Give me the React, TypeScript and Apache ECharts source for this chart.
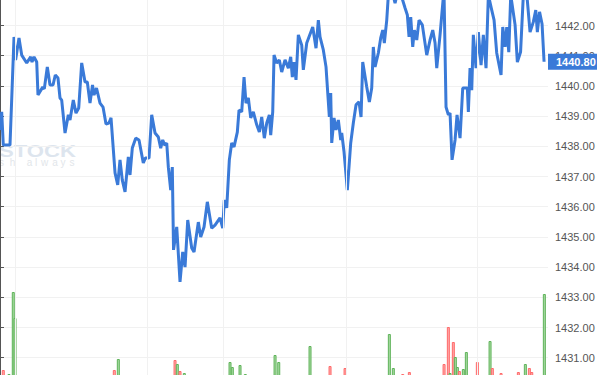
import React, { useEffect, useRef } from "react";
import * as echarts from "echarts";

// Time in seconds from the left edge of the view, price per tick
const priceTimes = [
  0, 37, 72, 219, 307, 342, 416, 475, 585, 672, 701, 745, 804, 832, 935, 970, 1036, 1095, 1161, 1211,
  1270, 1314, 1351, 1424, 1496, 1533, 1605, 1664, 1724, 1789, 1862, 1912, 1971, 2026, 2059, 2113, 2190, 2256, 2321, 2387,
  2431, 2519, 2578, 2628, 2678, 2738, 2810, 2847, 2897, 2972, 3044, 3138, 3182, 3263, 3322, 3395, 3467, 3519, 3563, 3607,
  3651, 3686, 3738, 3773, 3800, 3870, 3942, 4001, 4052, 4111, 4198, 4249, 4343, 4395, 4468, 4540, 4636, 4709, 4818, 4877,
  4912, 4965, 5022, 5074, 5125, 5197, 5234, 5293, 5344, 5387, 5438, 5490, 5547, 5622, 5679, 5731, 5788, 5841, 5898, 5928,
  5972, 6001, 6060, 6117, 6169, 6242, 6314, 6366, 6401, 6439, 6482, 6533, 6607, 6642, 6717, 6848, 6920, 6971, 7008, 7080,
  7139, 7212, 7242, 7264, 7315, 7358, 7409, 7461, 7483, 7534, 7606, 7680, 7737, 7796, 7862, 7906, 7943, 8031, 8088, 8140,
  8175, 8213, 8285, 8337, 8381, 8416, 8469, 8504, 8541, 8607, 8651, 8716, 8797, 8870, 8920, 8957, 8994, 9038, 9073, 9126,
  9176, 9248, 9345, 9417, 9476, 9527, 9564, 9636, 9702, 9724, 9767, 9818, 9855, 9899, 9965, 10008, 10074, 10133, 10234, 10256,
  10293, 10330, 10365, 10424, 10475, 10534, 10584, 10643, 10694, 10768, 10819, 10877, 10972, 11009, 11060, 11097, 11141, 11184, 11279, 11329,
  11399, 11460, 11541, 11607, 11679, 11732, 11767, 11815, 11870, 11914,
];
const prices = [
  1438.54, 1439.14, 1438.04, 1438.04, 1441.62, 1440.86, 1441.59, 1441.02, 1440.76, 1440.96, 1440.79, 1440.96, 1440.79, 1439.7, 1439.96, 1439.9, 1440.63, 1440.03, 1440.03, 1440.36,
  1440.26, 1439.6, 1439.53, 1438.44, 1439.04, 1438.87, 1439.53, 1439.1, 1439.27, 1440.76, 1440.13, 1440.13, 1439.43, 1440.03, 1439.7, 1439.93, 1439.43, 1439.3, 1438.74, 1438.77,
  1438.94, 1437.12, 1436.72, 1437.55, 1436.88, 1436.49, 1437.65, 1437.05, 1437.94, 1438.27, 1438.21, 1437.45, 1437.61, 1437.61, 1439.04, 1438.44, 1438.31, 1437.94, 1438.21, 1438.04,
  1438.11, 1437.31, 1436.55, 1437.31, 1434.57, 1435.33, 1433.51, 1434.5, 1434.0, 1435.56, 1434.63, 1434.5, 1435.49, 1435.0, 1435.33, 1436.16, 1435.29, 1435.39, 1435.63, 1435.29,
  1436.22, 1435.96, 1437.55, 1438.11, 1437.98, 1438.47, 1439.2, 1439.14, 1440.29, 1439.43, 1439.6, 1438.94, 1439.14, 1438.71, 1438.47, 1438.97, 1438.27, 1438.77, 1439.04, 1438.37,
  1439.14, 1441.02, 1440.76, 1440.86, 1440.46, 1440.86, 1440.59, 1440.96, 1440.29, 1440.79, 1440.2, 1441.69, 1441.35, 1440.53, 1441.42, 1441.95, 1441.25, 1442.18, 1441.62, 1441.19,
  1440.63, 1438.97, 1439.76, 1438.11, 1438.94, 1438.54, 1438.87, 1438.21, 1438.44, 1437.81, 1436.55, 1438.11, 1438.77, 1439.37, 1439.47, 1438.97, 1440.79, 1439.96, 1439.47, 1439.93,
  1441.29, 1440.63, 1441.09, 1441.59, 1441.85, 1441.42, 1442.18, 1443.01, 1443.34, 1443.01, 1442.74, 1443.17, 1442.94, 1442.58, 1442.35, 1441.62, 1442.28, 1441.29, 1441.85, 1441.52,
  1442.18, 1442.02, 1441.02, 1441.52, 1441.85, 1441.42, 1440.59, 1441.69, 1442.84, 1443.01, 1439.3, 1439.04, 1439.1, 1437.55, 1438.21, 1439.04, 1438.27, 1439.93, 1439.93, 1439.14,
  1440.59, 1439.86, 1441.69, 1440.59, 1441.78, 1440.69, 1441.69, 1440.59, 1443.01, 1442.51, 1442.18, 1441.09, 1440.36, 1441.95, 1441.29, 1441.95, 1441.12, 1443.01, 1442.02, 1440.79,
  1441.12, 1443.01, 1442.94, 1441.78, 1442.12, 1442.51, 1441.78, 1442.45, 1442.05, 1440.8,
];

// Volume bars: time (s), volume, direction (u = up / green, d = down / red)
const volTimes = [
  72, 197, 291, 329, 2503, 2591, 3833, 3883, 3942, 4036, 5037, 5087, 5256, 5372, 6023, 6104, 6789, 7227, 7556, 8526,
  8613, 8819, 8964, 9724, 9818, 9855, 9927, 9971, 10015, 10059, 10146, 10212, 10453, 10731, 10781, 10972, 11351, 11504, 11592, 11644,
  11920,
];
const volumes = [
  7, 3, 85, 59, 7, 18, 17, 13, 6, 4, 15, 10, 12, 3, 22, 15, 31, 11, 9, 43,
  9, 3, 5, 13, 50, 4, 35, 20, 10, 6, 8, 25, 15, 36, 9, 4, 5, 13, 9, 5,
  83,
];
const volDirs = [
  "d", "u", "u", "u", "d", "u", "d", "u", "d", "u", "u", "u", "u", "u", "u", "u", "u", "d", "d", "u",
  "u", "d", "d", "d", "d", "u", "d", "u", "u", "d", "u", "u", "d", "u", "d", "d", "d", "u", "d", "d",
  "u",
];

// Session separators (s)
const sessionTimes = [329, 3219, 4884, 7577, 10446];

const yMin = 1430;
const yMax = 1443;

const hiddenAxis = {
  show: false,
  axisLine: { show: false },
  axisTick: { show: false },
  axisLabel: { show: false },
  splitLine: { show: false },
};

export default function App() {
  const ref = useRef<HTMLDivElement>(null);

  useEffect(() => {
    if (!ref.current) return;
    const chart = echarts.init(ref.current, null, { renderer: "svg" });
    const lastPrice = prices[prices.length - 1];

    const subtitle = "sh always".split("");
    const subX = [1.5, 12.5, 0, 29.5, 36, 44.5, 55, 63, 72];
    const graphicTexts: any[] = [
      {
        type: "text",
        x: -1,
        y: 142,
        scaleX: 1.3,
        z: 0,
        style: {
          text: "STOCK",
          font: "bold 17px Arial, sans-serif",
          fill: "#dde5ee",
        },
      },
    ];
    subtitle.forEach((ch, i) => {
      if (ch === " ") return;
      graphicTexts.push({
        type: "text",
        x: subX[i],
        y: 157,
        z: 0,
        style: {
          text: ch,
          font: "10px Arial, sans-serif",
          fill: "#e2e6ea",
          align: "center",
        },
      });
    });

    chart.setOption({
      animation: false,
      backgroundColor: "#ffffff",
      graphic: graphicTexts,
      grid: [
        { left: 0, right: 49, top: -4.7, bottom: -12.9, outerBoundsMode: "none" },
        { left: 0, right: 49, bottom: -2, height: 100, outerBoundsMode: "none" },
      ],
      xAxis: [
        { type: "value", gridIndex: 0, min: 0, max: 12000, ...hiddenAxis },
        { type: "value", gridIndex: 1, min: 0, max: 12000, ...hiddenAxis },
      ],
      yAxis: [
        {
          type: "value",
          gridIndex: 0,
          position: "right",
          min: yMin,
          max: yMax,
          interval: 1,
          axisLine: { show: true, lineStyle: { color: "#555555", width: 1 } },
          axisTick: { show: true, length: 4, lineStyle: { color: "#555555" } },
          axisLabel: {
            showMinLabel: false,
            showMaxLabel: false,
            margin: 7,
            color: "#555555",
            fontSize: 11,
            fontFamily: "Arial, 'Liberation Sans', sans-serif",
            formatter: (v: number) => v.toFixed(2),
          },
          splitLine: { show: true, lineStyle: { color: "#f1f1f1", width: 1 } },
        },
        { type: "value", gridIndex: 1, min: 0, max: 100, ...hiddenAxis },
      ],
      series: [
        {
          type: "line",
          xAxisIndex: 0,
          yAxisIndex: 0,
          data: [],
          z: 1,
          silent: true,
          markLine: {
            silent: true,
            symbol: "none",
            label: { show: false },
            emphasis: { disabled: true, label: { show: false } },
            lineStyle: { color: "#f1f1f1", width: 1, type: "solid" },
            data: sessionTimes.map((t) => ({ xAxis: t, label: { show: false } })),
          },
        },
        {
          type: "bar",
          xAxisIndex: 1,
          yAxisIndex: 1,
          barWidth: 3,
          z: 2,
          data: volTimes.map((t, i) => ({
            value: [t, volumes[i]],
            itemStyle:
              volDirs[i] === "u"
                ? { color: "#a9dba3", borderColor: "#5fb35a", borderWidth: 1 }
                : { color: "#ffa8a8", borderColor: "#ff6a6a", borderWidth: 1 },
          })),
        },
        {
          type: "line",
          xAxisIndex: 0,
          yAxisIndex: 0,
          z: 3,
          showSymbol: false,
          symbol: "none",
          clip: true,
          lineStyle: { color: "#3a7ad8", width: 3 },
          data: priceTimes.map((t, i) => [t, prices[i]]),
          markLine: {
            silent: true,
            symbol: "none",
            lineStyle: { color: "rgba(0,0,0,0)", width: 0 },
            label: {
              show: true,
              position: "end",
              distance: 0,
              formatter: () => lastPrice.toFixed(2),
              color: "#ffffff",
              fontWeight: "bold",
              fontSize: 11,
              fontFamily: "Arial, 'Liberation Sans', sans-serif",
              lineHeight: 12,
              backgroundColor: "#3a7ad8",
              padding: [2, 4, 2, 8],
            },
            data: [{ yAxis: lastPrice }],
          },
        },
      ],
    });

    return () => chart.dispose();
  }, []);

  return (
    <div
      ref={ref}
      style={{ position: "fixed", left: 0, top: 0, width: 597, height: 375 }}
    />
  );
}
